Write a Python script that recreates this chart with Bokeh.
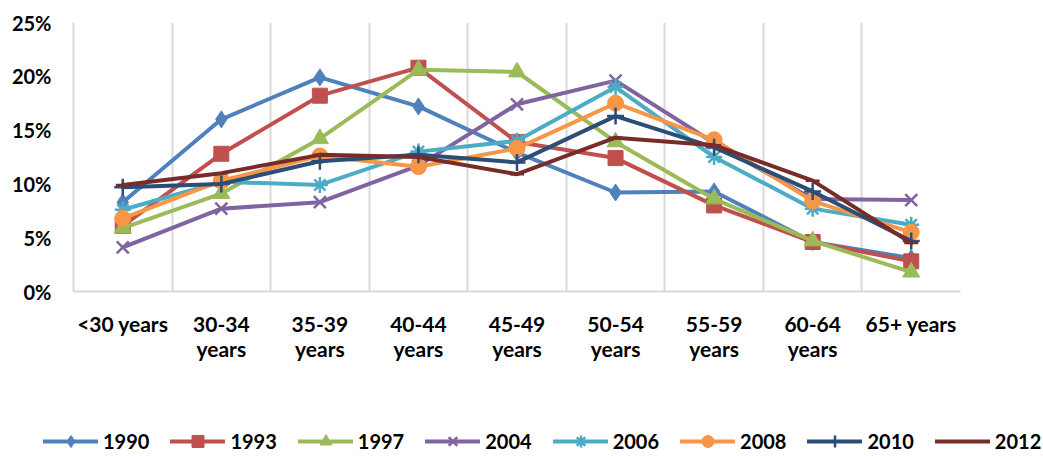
from bokeh.plotting import figure
from bokeh.models import FixedTicker, PrintfTickFormatter, Legend, LegendItem, Range1d
from bokeh.embed import file_html
from bokeh.resources import INLINE

categories = ["<30 years", "30-34\nyears", "35-39\nyears", "40-44\nyears", "45-49\nyears",
              "50-54\nyears", "55-59\nyears", "60-64\nyears", "65+ years"]
series_names = ["1990", "1993", "1997", "2004", "2006", "2008", "2010", "2012"]

v1990 = [8.3, 16.0, 19.9, 17.2, 12.9, 9.2, 9.3, 4.6, 3.1]
v1993 = [6.1, 12.8, 18.2, 20.8, 13.9, 12.4, 8.0, 4.6, 2.8]
v1997 = [5.9, 9.1, 14.2, 20.6, 20.4, 13.9, 8.6, 4.7, 1.8]
v2004 = [4.1, 7.7, 8.3, 11.7, 17.4, 19.6, 13.8, 8.6, 8.5]
v2006 = [7.6, 10.2, 9.9, 13.0, 14.0, 19.0, 12.5, 7.7, 6.2]
v2008 = [6.8, 10.3, 12.6, 11.6, 13.3, 17.5, 14.1, 8.4, 5.5]
v2010 = [9.7, 10.0, 12.1, 12.7, 12.0, 16.3, 13.4, 9.3, 4.7]
v2012 = [9.9, 11.0, 12.7, 12.5, 10.9, 14.3, 13.6, 10.3, 4.5]

values = [v1990, v1993, v1997, v2004, v2006, v2008, v2010, v2012]
colors = ["#4F81BD", "#C0504D", "#9BBB59", "#8064A2", "#4BACC6", "#F79646", "#2C4D75", "#772C2A"]
markers = ["diamond", "square", "triangle", "x", "asterisk", "circle", "cross", "dash"]
msizes = [17, 15, 17, 17, 16, 16, 17, 14]

FONT = "Lato"
x = list(range(len(categories)))

p = figure(width=1043, height=396, x_range=Range1d(-0.5, len(categories) - 0.5),
           y_range=Range1d(0, 25), output_backend="svg", toolbar_location=None,
           min_border_left=73, min_border_right=83, min_border_top=22, min_border_bottom=105)
p.outline_line_color = None

p.xgrid.ticker = FixedTicker(ticks=[i + 0.5 for i in x])
p.xgrid.grid_line_color = "#D9D9D9"
p.xgrid.grid_line_width = 2
p.ygrid.grid_line_color = None

p.xaxis.ticker = FixedTicker(ticks=x)
p.xaxis.major_label_overrides = {i: c for i, c in enumerate(categories)}
p.yaxis.ticker = FixedTicker(ticks=[0, 5, 10, 15, 20, 25])
p.yaxis.formatter = PrintfTickFormatter(format="%d%%")

for ax in (p.xaxis, p.yaxis):
    ax.axis_line_color = "#D9D9D9"
    ax.axis_line_width = 2
    ax.major_tick_line_color = None
    ax.minor_tick_line_color = None
    ax.major_label_text_font = FONT
    ax.major_label_text_font_style = "bold"
    ax.major_label_text_color = "black"
    ax.major_tick_out = 0
    ax.major_tick_in = 0

p.xaxis.major_label_text_font_size = "21px"
p.xaxis.major_label_standoff = 19
p.xaxis.major_label_text_line_height = 1.0
p.yaxis.major_label_text_font_size = "20px"
p.yaxis.major_label_standoff = 22

# legend strip underneath (its own root, so its frame spans the full width)
p2 = figure(width=1043, height=60, x_range=Range1d(-0.5, len(categories) - 0.5),
            y_range=Range1d(100, 101),
            output_backend="svg", toolbar_location=None, min_border=0,
            min_border_left=0, min_border_right=0, min_border_top=0, min_border_bottom=0,
            x_axis_location=None, y_axis_location=None)
p2.outline_line_color = None
p2.grid.visible = False

items = []
for name, vals, col, mk, ms in zip(series_names, values, colors, markers, msizes):
    kw = dict(line_width=2.5) if mk in ("x", "asterisk", "cross", "dash") else {}
    p.line(x, vals, line_color=col, line_width=4, line_join="round", line_cap="round")
    p.scatter(x, vals, marker=mk, size=ms, line_color=col, fill_color=col, **kw)
    lr = p2.line(x, vals, line_color=col, line_width=4, line_cap="round")
    mr = p2.scatter(x, vals, marker=mk, size=ms, line_color=col, fill_color=col, **kw)
    items.append(LegendItem(label=name, renderers=[lr, mr]))

legend = Legend(items=items, orientation="horizontal", location=(43, 0),
                glyph_width=55, glyph_height=30, label_standoff=5, spacing=21, padding=0, margin=0,
                border_line_color=None, background_fill_alpha=0, label_text_color="black",
                label_text_font=FONT, label_text_font_style="bold", label_text_font_size="20px")
p2.add_layout(legend)

open("out.html", "w").write(file_html([p, p2], INLINE))
